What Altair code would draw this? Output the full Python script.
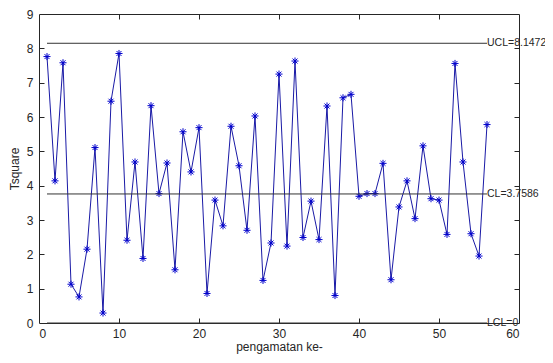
import altair as alt
import pandas as pd

obs = list(range(1, 57))
tsq = [7.76, 4.14, 7.58, 1.13, 0.76, 2.15, 5.11, 0.29, 6.46, 7.85,
       2.41, 4.69, 1.88, 6.33, 3.77, 4.66, 1.55, 5.57, 4.40, 5.69,
       0.86, 3.58, 2.83, 5.73, 4.58, 2.70, 6.03, 1.24, 2.33, 7.25,
       2.24, 7.63, 2.49, 3.55, 2.43, 6.32, 0.80, 6.56, 6.66, 3.69,
       3.77, 3.77, 4.65, 1.26, 3.38, 4.14, 3.04, 5.16, 3.62, 3.58,
       2.58, 7.56, 4.69, 2.60, 1.95, 5.78]
limit_names = ["UCL", "CL", "LCL"]
limit_values = [8.1472, 3.7586, 0.0]
limit_labels = ["UCL=8.1472", "CL=3.7586", "LCL=0"]

df = pd.DataFrame({"obs": obs, "tsq": tsq})
lim = pd.DataFrame({
    "name": limit_names,
    "value": limit_values,
    "label": limit_labels,
    "x1": [min(obs)] * 3,
    "x2": [max(obs)] * 3,
})

FONT = "Liberation Sans"
AX = "#262626"
FS = 12
xs = alt.Scale(domain=[0, 60], nice=False)
ys = alt.Scale(domain=[0, 9], nice=False)

star = "M-1,0L1,0M0,-1L0,1M-0.7,-0.7L0.7,0.7M-0.7,0.7L0.7,-0.7"

line = alt.Chart(df).mark_line(color="#1a1aa6", strokeWidth=1).encode(
    x=alt.X("obs:Q", scale=xs, title="pengamatan ke-",
            axis=alt.Axis(values=[0, 10, 20, 30, 40, 50, 60], ticks=False, domain=False,
                          grid=False, labelFontSize=FS, labelColor=AX, labelFont=FONT,
                          titleFont=FONT, titleFontSize=FS, titleFontWeight="normal",
                          titleColor=AX, labelPadding=5, titlePadding=2)),
    y=alt.Y("tsq:Q", scale=ys, title="Tsquare",
            axis=alt.Axis(values=list(range(10)), ticks=False, domain=False,
                          grid=False, labelFontSize=FS, labelColor=AX, labelFont=FONT,
                          titleFont=FONT, titleFontSize=FS, titleFontWeight="normal",
                          titleColor=AX, labelPadding=6, titlePadding=5)),
)

pts = alt.Chart(df).mark_point(shape=star, size=50, color="#0000cc", strokeWidth=1,
                               filled=False, opacity=1).encode(
    x=alt.X("obs:Q", scale=xs,
            axis=alt.Axis(orient="bottom", offset=-5, tickSize=5, domain=False, labels=False,
                          title=None, grid=False, values=[10, 20, 30, 40, 50], tickColor=AX)),
    y=alt.Y("tsq:Q", scale=ys,
            axis=alt.Axis(orient="left", offset=-5, tickSize=5, domain=False, labels=False,
                          title=None, grid=False, values=list(range(1, 9)), tickColor=AX)),
)

rules = alt.Chart(lim).mark_rule(color="#333333", strokeWidth=1).encode(
    x=alt.X("x1:Q", scale=xs,
            axis=alt.Axis(orient="top", offset=-5, tickSize=5, domain=False, labels=False,
                          title=None, grid=False, values=[10, 20, 30, 40, 50], tickColor=AX)),
    x2="x2:Q",
    y=alt.Y("value:Q", scale=ys,
            axis=alt.Axis(orient="right", offset=-5, tickSize=5, domain=False, labels=False,
                          title=None, grid=False, values=list(range(1, 9)), tickColor=AX)),
)

texts = alt.Chart(lim).mark_text(align="left", baseline="middle", fontSize=10.5,
                                 font=FONT, color=AX, dx=0).encode(
    x=alt.X("x2:Q", scale=xs, axis=None),
    y=alt.Y("value:Q", scale=ys, axis=None),
    text="label:N",
)

chart = alt.layer(line, pts, rules, texts).resolve_axis(
    x="independent", y="independent"
).properties(
    width=480, height=309, background="white",
    autosize=alt.AutoSizeParams(type="none"),
    padding={"left": 31, "top": 6, "right": 26, "bottom": 32},
).configure_view(stroke=AX, strokeWidth=1)

chart.save("out.html", embed_options={"renderer": "svg", "actions": False})
